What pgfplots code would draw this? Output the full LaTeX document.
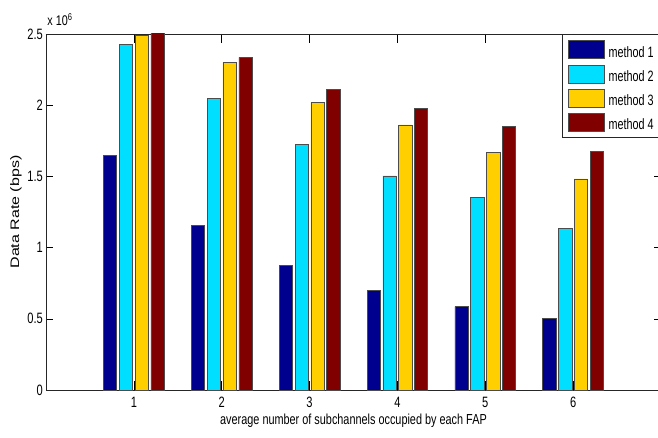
\documentclass[border=0pt]{standalone}
\usepackage{fontspec}
\setmainfont{Liberation Sans}
\usepackage{pgfplots}
\pgfplotsset{compat=1.18}
\definecolor{mA}{RGB}{0,0,143}
\definecolor{mB}{RGB}{0,223,255}
\definecolor{mC}{RGB}{255,207,0}
\definecolor{mD}{RGB}{128,0,0}
\begin{document}
\begin{tikzpicture}
\begin{axis}[
  at={(46pt,47pt)}, anchor=south west,
  scale only axis, width=615pt, height=356pt,
  xmin=0, xmax=7, ymin=0, ymax=2.5,
  clip mode=individual,
  xtick={1,2,3,4,5,6}, xticklabels={1,2,3,4,5,6},
  ytick={0,0.5,1,1.5,2,2.5}, yticklabels={0,0.5,1,1.5,2,2.5},
  tick align=inside,
  xtick style={/pgfplots/major tick length=9pt},
  ytick style={/pgfplots/major tick length=7pt},
  every tick/.append style={black, line width=0.6pt},
  axis line style={black!85, line width=0.8pt},
  /pgf/number format/assume math mode=true,
  tick label style={font=\fontsize{15}{17}\selectfont, inner sep=0pt, xscale=0.74},
  xticklabel style={anchor=north, yshift=-7pt},
  yticklabel style={anchor=east, xshift=-4pt},
  xlabel={average number of subchannels occupied by each FAP},
  xlabel style={at={(axis description cs:0.5,-0.0983)}, anchor=base, inner sep=0pt, font=\fontsize{14.5}{16}\selectfont, xscale=0.75},
  ylabel={Data Rate (bps)},
  ylabel style={at={(axis description cs:-0.0439,0.5)}, anchor=base, inner sep=0pt, font=\fontsize{16}{18}\selectfont, yscale=0.77},
  legend style={at={(rel axis cs:0.8385,1)}, anchor=north west, draw=black!85, line width=0.6pt, fill=white,
    inner xsep=5.6pt, inner ysep=6pt, row sep=5.6pt, font=\fontsize{15}{17}\selectfont,
    cells={anchor=west}, nodes={inner sep=0pt, text height=10.5pt, text depth=0pt, xscale=0.72}},
  legend image code/.code={\draw[#1, line width=0.6pt] (0pt,-6.5pt) rectangle (36pt,11.5pt); \path (40.4pt,0pt);},
]
\addplot[ybar, bar width=0.151, bar shift=-0.27, fill=mA, draw=black!70, line width=0.6pt] coordinates {(1,1.648) (2,1.154) (3,0.875) (4,0.702) (5,0.585) (6,0.503)};
\addplot[ybar, bar width=0.151, bar shift=-0.09, fill=mB, draw=black!70, line width=0.6pt] coordinates {(1,2.425) (2,2.048) (3,1.725) (4,1.503) (5,1.350) (6,1.133)};
\addplot[ybar, bar width=0.151, bar shift=0.09, fill=mC, draw=black!70, line width=0.6pt] coordinates {(1,2.49) (2,2.301) (3,2.020) (4,1.861) (5,1.671) (6,1.482)};
\addplot[ybar, bar width=0.151, bar shift=0.27, fill=mD, draw=black!70, line width=0.6pt] coordinates {(1,2.52) (2,2.336) (3,2.113) (4,1.978) (5,1.852) (6,1.678)};
\legend{method 1, method 2, method 3, method 4}
\node[anchor=base west, inner sep=0pt, font=\fontsize{14}{16}\selectfont, xscale=0.77] at (rel axis cs:0.002,1.0225) {x 10\textsuperscript{6}};
\end{axis}
\pgfresetboundingbox
\path[use as bounding box] (0,0) rectangle (658pt,437pt);
\end{tikzpicture}
\end{document}
